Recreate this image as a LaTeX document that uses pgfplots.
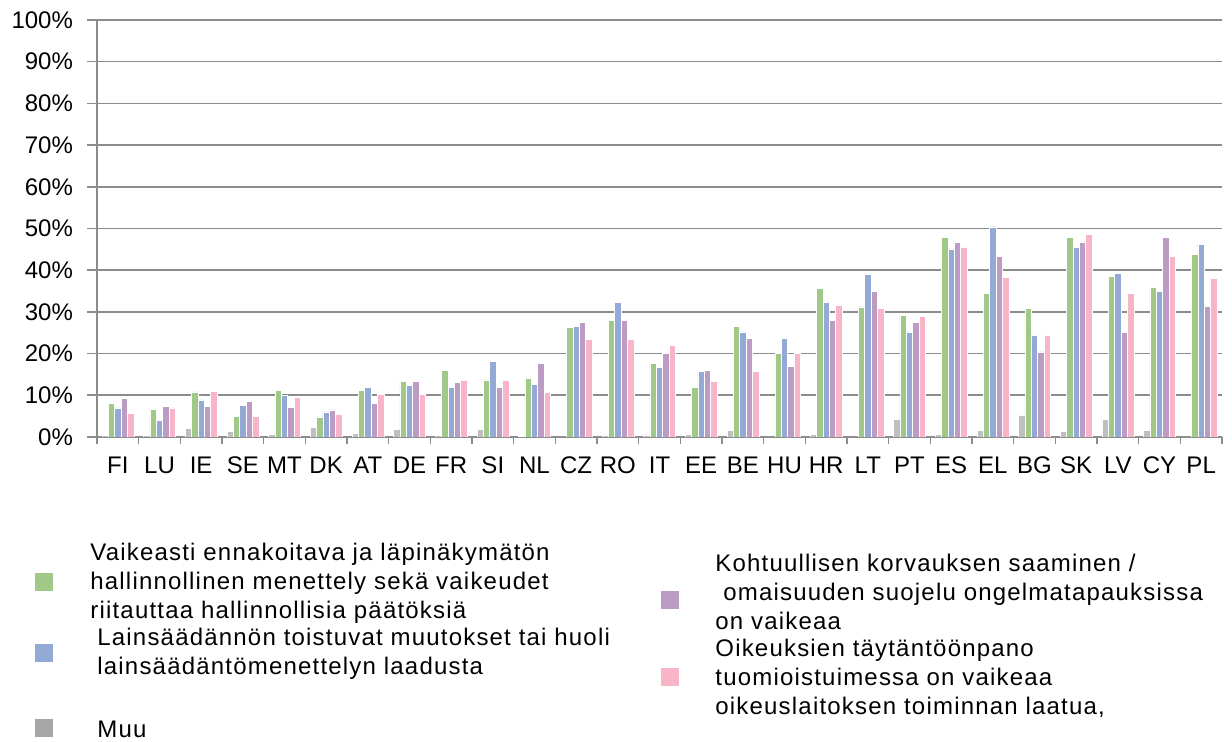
\documentclass[border=0pt]{standalone}
\usepackage{fontspec}
\setmainfont{Liberation Sans}
\newfontfamily\legfont[LetterSpace=5]{Liberation Sans}
\usepackage{pgfplots}
\pgfplotsset{compat=1.18}
\usepackage{pgfplotstable}
\definecolor{cgreen}{HTML}{A0C987}
\definecolor{cblue}{HTML}{93A9D6}
\definecolor{cpurple}{HTML}{BC9BC4}
\definecolor{cpink}{HTML}{F8B5C8}
\definecolor{cgray}{HTML}{BFBFBF}
\definecolor{clgray}{HTML}{A6A6A6}
\definecolor{caxis}{HTML}{8C8C8C}
\pgfplotstableread{
x muu green blue purple pink
0 0.4 8.1 7.0 9.2 5.6
1 0.3 6.7 3.9 7.4 7.0
2 2.1 10.8 8.9 7.3 11.0
3 1.4 5.0 7.6 8.5 5.0
4 0.6 11.1 9.9 7.1 9.5
5 2.3 4.8 6.0 6.5 5.5
6 0.9 11.1 11.9 8.0 10.3
7 1.9 13.3 12.4 13.3 10.2
8 0.4 16.0 11.9 13.1 13.5
9 1.9 13.7 18.2 11.8 13.5
10 0.2 14.0 12.7 17.6 10.7
11 0 26.2 26.5 27.4 23.4
12 0.5 27.9 32.2 27.9 23.5
13 0.5 17.7 16.8 20.0 21.9
14 0.6 11.9 15.8 16.0 13.4
15 1.5 26.5 25.2 23.7 15.8
16 0 20.1 23.7 16.9 20.1
17 0.6 35.6 32.4 28.0 31.6
18 0 31.2 39.1 35.0 30.8
19 4.2 29.2 25.2 27.4 29.0
20 0.6 47.9 45.1 46.6 45.6
21 1.6 34.4 50.4 43.3 38.2
22 5.3 30.8 24.5 20.4 24.5
23 1.4 47.9 45.4 46.8 48.6
24 4.3 38.5 39.3 25.1 34.5
25 1.6 35.8 35.0 47.8 43.3
26 0 43.8 46.2 31.3 38.0
}\data
\begin{document}
\begin{tikzpicture}
\useasboundingbox (-48.5pt,-152.5pt) rectangle (567.5pt,218.5pt);
\begin{axis}[
  at={(0,0)}, anchor=south west,
  scale only axis, width=562.5pt, height=208.5pt,
  ybar=0pt, bar width=3.2pt,
  xmin=-0.5, xmax=26.5, ymin=0, ymax=100,
  xtick={0,...,26},
  xticklabels={FI,LU,IE,SE,MT,DK,AT,DE,FR,SI,NL,CZ,RO,IT,EE,BE,HU,HR,LT,PT,ES,EL,BG,SK,LV,CY,PL},
  major x tick style={draw=none},
  minor xtick={-0.5,0.5,...,26.5},
  ytick={0,10,...,100},
  yticklabel={\pgfmathprintnumber{\tick}\%},
  ymajorgrids,
  grid style={draw=caxis, line width=0.8pt},
  axis x line*=bottom, axis y line*=left,
  axis line style={draw=caxis, line width=0.8pt},
  tick align=outside,
  tick style={draw=caxis, line width=0.8pt},
  major tick length=5pt, minor tick length=3.5pt,
  ticklabel style={font=\fontsize{12}{14}\selectfont},
  yticklabel style={xshift=-3.5pt},
  xticklabel style={yshift=-1.5pt},
  /pgf/number format/assume math mode=true,
  every axis plot/.append style={draw=white, line width=0.3pt},
]
\addplot[fill=cgray] table[x=x,y=muu]{\data};
\addplot[fill=cgreen] table[x=x,y=green]{\data};
\addplot[fill=cblue] table[x=x,y=blue]{\data};
\addplot[fill=cpurple] table[x=x,y=purple]{\data};
\addplot[fill=cpink] table[x=x,y=pink]{\data};
\end{axis}
\begin{scope}[every node/.style={inner sep=0pt}]
\node[fill=cgreen, minimum size=9pt] at (-26.5pt,-72.5pt) {};
\node[fill=cblue, minimum size=9pt] at (-26.5pt,-108pt) {};
\node[fill=clgray, minimum size=9pt] at (-26.5pt,-145.5pt) {};
\node[fill=cpurple, minimum size=9pt] at (286.5pt,-81.5pt) {};
\node[fill=cpink, minimum size=9pt] at (286.5pt,-120pt) {};
\end{scope}
\begin{scope}[every node/.style={font=\legfont\fontsize{12}{14.5}\selectfont, align=left, anchor=west, inner sep=0pt}]
\node at (-3.5pt,-73pt) {Vaikeasti ennakoitava ja läpinäkymätön\\hallinnollinen menettely sekä vaikeudet\\riitauttaa hallinnollisia päätöksiä};
\node at (0pt,-108.25pt) {Lainsäädännön toistuvat muutokset tai huoli\\lainsäädäntömenettelyn laadusta};
\node at (0pt,-146pt) {Muu};
\node at (309pt,-77.5pt) {Kohtuullisen korvauksen saaminen /\\\ omaisuuden suojelu ongelmatapauksissa\\on vaikeaa};
\node at (309pt,-120.5pt) {Oikeuksien täytäntöönpano\\tuomioistuimessa on vaikeaa\\oikeuslaitoksen toiminnan laatua,};
\end{scope}
\end{tikzpicture}
\end{document}
